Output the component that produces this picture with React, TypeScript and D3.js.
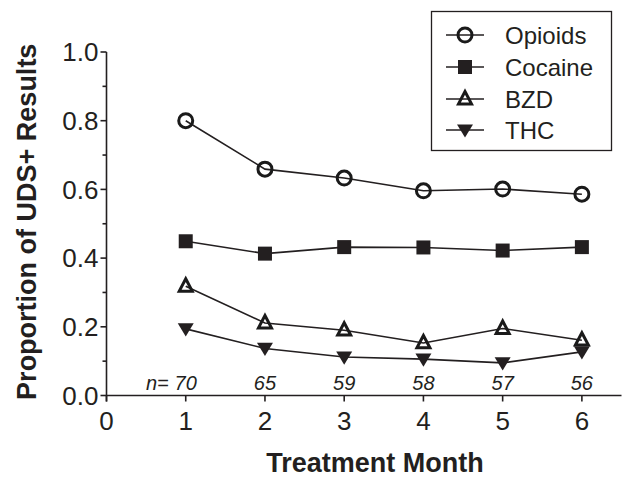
import React from "react";
import * as d3 from "d3";

const months = [1, 2, 3, 4, 5, 6];
const opioids = [0.8, 0.659, 0.633, 0.596, 0.601, 0.586];
const cocaine = [0.449, 0.413, 0.432, 0.431, 0.422, 0.432];
const bzd = [0.318, 0.211, 0.19, 0.153, 0.195, 0.161];
const thc = [0.194, 0.137, 0.112, 0.106, 0.095, 0.127];
const nLabels = ["70", "65", "59", "58", "57", "56"];
const xTicks = [0, 1, 2, 3, 4, 5, 6];
const yTicks = [0, 0.2, 0.4, 0.6, 0.8, 1.0];
const yMinorTicks = [0.1, 0.3, 0.5, 0.7, 0.9];
const seriesNames = ["Opioids", "Cocaine", "BZD", "THC"];

const FONT = "'Liberation Sans', Arial, Helvetica, sans-serif";

type MarkerKind = "circle" | "square" | "tri" | "dtri";

function Marker({ kind, x, y }: { kind: MarkerKind; x: number; y: number }) {
  if (kind === "circle") {
    return <circle cx={x} cy={y} r={7} fill="none" stroke="#1a1a1a" strokeWidth={3} />;
  }
  if (kind === "square") {
    return <rect x={x - 7} y={y - 7} width={14} height={14} fill="#231f20" />;
  }
  if (kind === "tri") {
    const s = 6.5;
    const p = `M${x},${y - s - 1} L${x + s},${y + s * 0.75} L${x - s},${y + s * 0.75} Z`;
    return <path d={p} fill="none" stroke="#1a1a1a" strokeWidth={3} strokeLinejoin="miter" />;
  }
  const s = 8;
  const p = `M${x - s},${y - s * 0.7} L${x + s},${y - s * 0.7} L${x},${y + s * 0.95} Z`;
  return <path d={p} fill="#231f20" />;
}

export default function App() {
  const W = 625;
  const H = 479;
  const x = d3.scaleLinear().domain([0, 6.5]).range([106.5, 621.5]);
  const y = d3.scaleLinear().domain([0, 1]).range([395.5, 52]);
  const line = d3
    .line<number>()
    .x((_, i) => x(months[i]))
    .y((d) => y(d));

  const series: { name: string; vals: number[]; kind: MarkerKind }[] = [
    { name: seriesNames[0], vals: opioids, kind: "circle" },
    { name: seriesNames[1], vals: cocaine, kind: "square" },
    { name: seriesNames[2], vals: bzd, kind: "tri" },
    { name: seriesNames[3], vals: thc, kind: "dtri" },
  ];

  const axisColor = "#231f20";
  const legendX = 431.5;
  const legendY = 11.5;
  const legendW = 180;
  const legendH = 139;
  const rowYs = [35, 67, 99, 130];

  return (
    <div style={{ position: "absolute", left: 0, top: 0 }}>
      <svg width={W} height={H} style={{ display: "block", background: "#fff" }} fontFamily={FONT}>
        <rect x={0} y={0} width={W} height={H} fill="#fff" />
        {/* y axis */}
        <line x1={x(0)} x2={x(0)} y1={y(1)} y2={y(0) + 6} stroke={axisColor} strokeWidth={1.6} />
        {yTicks.map((t) => (
          <g key={"yt" + t}>
            <line x1={x(0) - 6} x2={x(0)} y1={y(t)} y2={y(t)} stroke={axisColor} strokeWidth={1.6} />
            <text x={x(0) - 8} y={y(t)} dy="0.36em" textAnchor="end" fontSize={26} fill="#231f20">
              {t.toFixed(1)}
            </text>
          </g>
        ))}
        {yMinorTicks.map((t) => (
          <line key={"ym" + t} x1={x(0) - 4} x2={x(0)} y1={y(t)} y2={y(t)} stroke={axisColor} strokeWidth={1.6} />
        ))}
        {/* x axis */}
        <line x1={x(0)} x2={x(6.5)} y1={y(0)} y2={y(0)} stroke={axisColor} strokeWidth={1.6} />
        {xTicks.map((t) => (
          <g key={"xt" + t}>
            <line x1={x(t)} x2={x(t)} y1={y(0)} y2={y(0) + 6} stroke={axisColor} strokeWidth={1.6} />
            <text x={x(t)} y={y(0) + 34} textAnchor="middle" fontSize={26} fill="#231f20">
              {t}
            </text>
          </g>
        ))}
        {/* n labels */}
        {nLabels.map((n, i) => (
          <text
            key={"n" + i}
            x={x(months[i])}
            y={y(0) - 6}
            textAnchor="middle"
            fontSize={20}
            fontStyle="italic"
            fill="#231f20"
          >
            {n}
          </text>
        ))}
        <text x={x(1) - 17} y={y(0) - 6} textAnchor="end" fontSize={20} fontStyle="italic" fill="#231f20">
          {"n="}
        </text>
        {/* titles */}
        <text x={375} y={472} textAnchor="middle" fontSize={27} fontWeight="bold" fill="#231f20">
          Treatment Month
        </text>
        <text
          transform={`translate(36, ${(y(0) + y(1)) / 2 - 2}) rotate(-90)`}
          textAnchor="middle"
          fontSize={27}
          fontWeight="bold"
          fill="#231f20"
        >
          Proportion of UDS+ Results
        </text>
        {/* series */}
        {series.map((s) => (
          <path key={"l" + s.name} d={line(s.vals) || ""} fill="none" stroke="#231f20" strokeWidth={1.6} />
        ))}
        {series.map((s) =>
          s.vals.map((v, i) => <Marker key={s.name + i} kind={s.kind} x={x(months[i])} y={y(v)} />)
        )}
        {/* legend */}
        <rect x={legendX} y={legendY} width={legendW} height={legendH} fill="#fff" stroke={axisColor} strokeWidth={1.3} />
        {series.map((s, i) => (
          <g key={"lg" + s.name}>
            <line x1={446} x2={484} y1={rowYs[i]} y2={rowYs[i]} stroke="#231f20" strokeWidth={1.6} />
            <Marker kind={s.kind} x={465} y={rowYs[i]} />
            <text x={505} y={rowYs[i]} dy="0.36em" fontSize={24} fill="#231f20">
              {s.name}
            </text>
          </g>
        ))}
      </svg>
    </div>
  );
}
